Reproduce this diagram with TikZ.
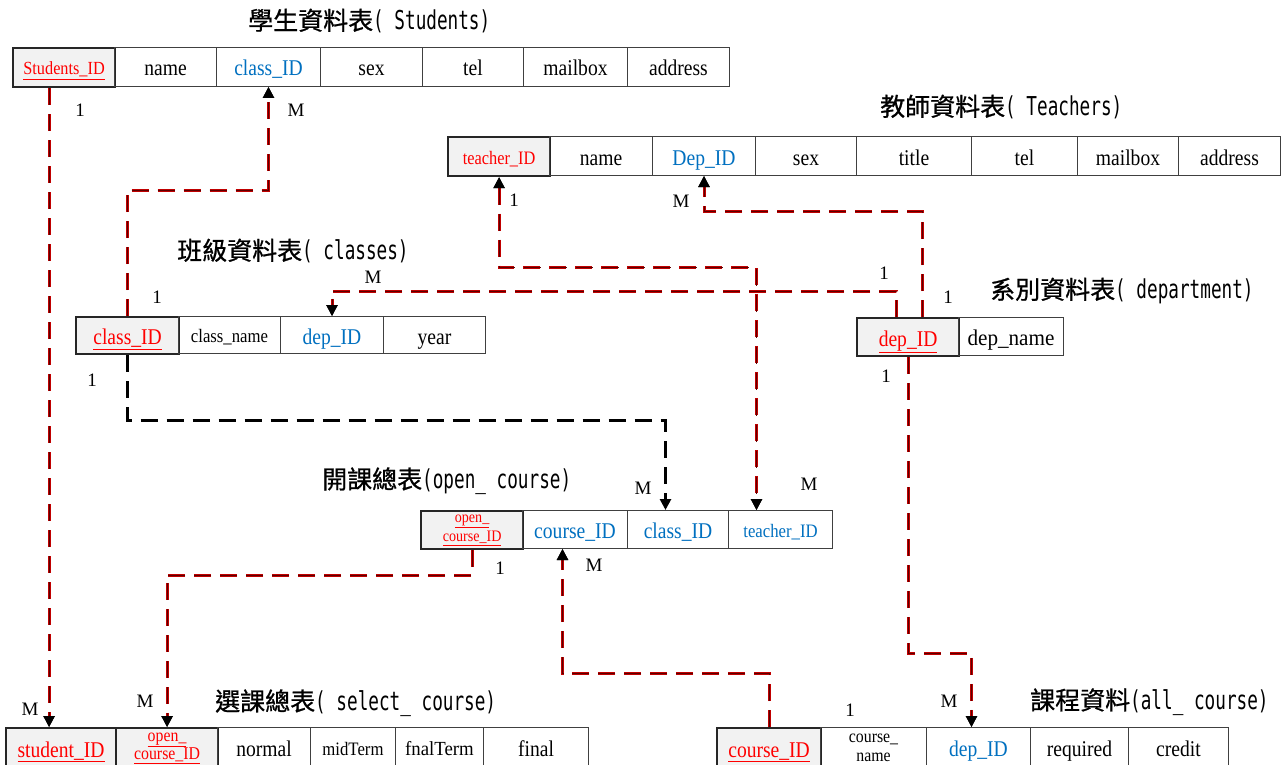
\documentclass[tikz,border=0pt]{standalone}
\usepackage{fontspec}
\usepackage{graphicx}
\setmainfont{Liberation Serif}
\newfontfamily\cjkf[FakeBold=0.8]{Noto Sans CJK TC}
\newfontfamily\monof{DejaVu Sans Mono}
\usetikzlibrary{arrows.meta}
\definecolor{keyred}{HTML}{FF0000}
\definecolor{fkblue}{HTML}{0070C0}
\definecolor{linered}{HTML}{C00000}
\definecolor{linecore}{HTML}{5A0000}
\definecolor{keyfill}{HTML}{F2F2F2}
\definecolor{cellline}{HTML}{404040}
% single-line cell text: fixed box so that all baselines sit alike
\newcommand\tx[3]{{\fontsize{#1}{#1}\selectfont\rule[-0.1em]{0pt}{1.0em}\smash{\scalebox{#2}[1]{#3}}}}
% line of a two-line cell
\newcommand\ty[3]{{\fontsize{#1}{#1}\selectfont\scalebox{#2}[1]{#3}}}
\newcommand\tn[1]{\tx{22.5}{0.87}{#1}}
\newcommand\ttl[2]{{\fontsize{25}{25}\selectfont\cjkf #1}{\fontsize{26}{26}\selectfont\scalebox{0.68}[1]{\monof #2}}}
\tikzset{
  tcell/.style={draw=cellline, line width=1pt, inner sep=0pt, anchor=north west, align=center},
  tkey/.style={tcell, draw=black!85, line width=2.2pt, fill=keyfill, text=keyred},
  fk/.style={text=fkblue},
  ttlnode/.style={inner sep=0pt, anchor=west},
  lbl/.style={inner sep=0pt, font=\fontsize{19}{19}\selectfont},
  >={Triangle[length=11pt,width=11pt,color=black]},
  rel/.style={draw=linered, line width=3pt, dash pattern=on 17pt off 9pt,
    postaction={draw=linecore, line width=1pt, dash pattern=on 17pt off 9pt}},
  blk/.style={draw=black, line width=2.6pt, dash pattern=on 17pt off 9pt},
}
\begin{document}
\begin{tikzpicture}[x=1pt,y=-1pt]
\useasboundingbox (0,0) rectangle (1285,765);
\clip (0,0) rectangle (1285,765);
\fill[white] (0,0) rectangle (1285,765);

% ---- Students
\node[ttlnode] (tS) at (248,21) {\ttl{學生資料表}{( Students)}};
\node[tkey, minimum width=102pt, minimum height=39pt] (s1) at (12,47) {\tx{18.5}{0.88}{\underline{Students\_ID}}};
\node[tcell, minimum width=102pt, minimum height=39pt] (s2) at (114,47) {\tn{name}};
\node[tcell, fk, minimum width=104pt, minimum height=39pt] (s3) at (216,47) {\tn{class\_ID}};
\node[tcell, minimum width=102pt, minimum height=39pt] (s4) at (320,47) {\tn{sex}};
\node[tcell, minimum width=101pt, minimum height=39pt] (s5) at (422,47) {\tn{tel}};
\node[tcell, minimum width=104pt, minimum height=39pt] (s6) at (523,47) {\tn{mailbox}};
\node[tcell, minimum width=102pt, minimum height=39pt] (s7) at (627,47) {\tn{address}};

% ---- Teachers
\node[ttlnode] (tT) at (880,107) {\ttl{教師資料表}{( Teachers)}};
\node[tkey, minimum width=102pt, minimum height=39pt] (t1) at (447,136) {\tx{19}{0.86}{teacher\_ID}};
\node[tcell, minimum width=103pt, minimum height=39pt] (t2) at (549,136) {\tn{name}};
\node[tcell, fk, minimum width=103pt, minimum height=39pt] (t3) at (652,136) {\tn{Dep\_ID}};
\node[tcell, minimum width=101pt, minimum height=39pt] (t4) at (755,136) {\tn{sex}};
\node[tcell, minimum width=115pt, minimum height=39pt] (t5) at (856,136) {\tn{title}};
\node[tcell, minimum width=106pt, minimum height=39pt] (t6) at (971,136) {\tn{tel}};
\node[tcell, minimum width=101pt, minimum height=39pt] (t7) at (1077,136) {\tn{mailbox}};
\node[tcell, minimum width=102pt, minimum height=39pt] (t8) at (1178,136) {\tn{address}};

% ---- classes
\node[ttlnode] (tC) at (177,251) {\ttl{班級資料表}{( classes)}};
\node[tkey, minimum width=103pt, minimum height=37pt] (c1) at (75,316) {\tn{\underline{class\_ID}}};
\node[tcell, minimum width=102pt, minimum height=37pt] (c2) at (178,316) {\tx{19}{0.88}{class\_name}};
\node[tcell, fk, minimum width=103pt, minimum height=37pt] (c3) at (280,316) {\tn{dep\_ID}};
\node[tcell, minimum width=102pt, minimum height=37pt] (c4) at (383,316) {\tn{year}};

% ---- department
\node[ttlnode] (tD) at (990,291) {\ttl{系別資料表}{( department)}};
\node[tkey, minimum width=102pt, minimum height=38pt] (d1) at (856,317) {\tn{\underline{dep\_ID}}};
\node[tcell, minimum width=105pt, minimum height=38pt] (d2) at (958,317) {\tx{22.5}{0.94}{dep\_name}};

% ---- open_course
\node[ttlnode] (tO) at (322,481) {\ttl{開課總表}{(open\_ course)}};
\node[tkey, minimum width=102pt, minimum height=38pt, font=\fontsize{15}{19}\selectfont] (o1) at (420,510) {\ty{16}{0.88}{\underline{open\_}}\\\ty{16}{0.88}{\underline{course\_ID}}};
\node[tcell, fk, minimum width=105pt, minimum height=38pt] (o2) at (522,510) {\tn{course\_ID}};
\node[tcell, fk, minimum width=101pt, minimum height=38pt] (o3) at (627,510) {\tn{class\_ID}};
\node[tcell, fk, minimum width=104pt, minimum height=38pt] (o4) at (728,510) {\tx{19}{0.88}{teacher\_ID}};

% ---- select_course
\node[ttlnode] (tSC) at (215,703) {\ttl{選課總表}{( select\_ course)}};
\node[tkey, minimum width=110pt, minimum height=40pt] (sc1) at (5,727) {\tn{\underline{student\_ID}}};
\node[tkey, minimum width=102pt, minimum height=40pt, font=\fontsize{17}{18}\selectfont] (sc2) at (115,727) {\ty{18}{0.88}{\underline{open\_}}\\\ty{18}{0.88}{\underline{course\_ID}}};
\node[tcell, minimum width=93pt, minimum height=40pt] (sc3) at (217,727) {\tn{normal}};
\node[tcell, minimum width=85pt, minimum height=40pt] (sc4) at (310,727) {\tx{19}{0.88}{midTerm}};
\node[tcell, minimum width=88pt, minimum height=40pt] (sc5) at (395,727) {\tx{20}{0.94}{fnalTerm}};
\node[tcell, minimum width=105pt, minimum height=40pt] (sc6) at (483,727) {\tn{final}};

% ---- all_course
\node[ttlnode] (tA) at (1030,702) {\ttl{課程資料}{(all\_ course)}};
\node[tkey, minimum width=104pt, minimum height=40pt] (a1) at (716,727) {\tn{\underline{course\_ID}}};
\node[tcell, minimum width=106pt, minimum height=40pt, font=\fontsize{17}{19}\selectfont] (a2) at (820,727) {\ty{18}{0.88}{course\_}\\\ty{18}{0.88}{name}};
\node[tcell, fk, minimum width=104pt, minimum height=40pt] (a3) at (926,727) {\tn{dep\_ID}};
\node[tcell, minimum width=98pt, minimum height=40pt] (a4) at (1030,727) {\tn{required}};
\node[tcell, minimum width=100pt, minimum height=40pt] (a5) at (1128,727) {\tn{credit}};

% ---- connectors
\draw[rel,->] ([xshift=-15pt]s1.south) -- ([xshift=-12pt]sc1.north);
\draw[rel,->] (c1.north) -- ++(0,-126) -| (s3.south);
\draw[blk,->] (c1.south) -- ++(0,65) -| ([xshift=-12.5pt]o3.north);
\draw[rel,->] ([xshift=-12pt]d1.north) -- ++(0,-26) -| (c3.north);
\draw[rel,->] ([xshift=14pt]d1.north) -- ++(0,-106) -| (t3.south);
\draw[rel,<->] (t1.south) -- ++(0,90) -| ([xshift=-24pt]o4.north);
\draw[rel,->] (o1.south) -- ++(0,25) -| (sc2.north);
\draw[rel,->] (a1.north) -- ++(0,-54) -| ([xshift=-12.5pt]o2.south);
\draw[rel,->] (d1.south) -- ++(0,296) -| ([xshift=-7pt]a3.north);

% ---- cardinality labels
\node[lbl] (n1) at (80,110) {1};
\node[lbl] (n2) at (296,110) {M};
\node[lbl] (n3) at (514,200) {1};
\node[lbl] (n4) at (681,201) {M};
\node[lbl] (n5) at (157,297) {1};
\node[lbl] (n6) at (373,277) {M};
\node[lbl] (n7) at (884,273) {1};
\node[lbl] (n8) at (948,297) {1};
\node[lbl] (n9) at (92,380) {1};
\node[lbl] (n10) at (886,376) {1};
\node[lbl] (n11) at (643,488) {M};
\node[lbl] (n12) at (809,484) {M};
\node[lbl] (n13) at (500,568) {1};
\node[lbl] (n14) at (594,565) {M};
\node[lbl] (n15) at (30,709) {M};
\node[lbl] (n16) at (145,701) {M};
\node[lbl] (n17) at (850,710) {1};
\node[lbl] (n18) at (949,701) {M};
\end{tikzpicture}
\end{document}
